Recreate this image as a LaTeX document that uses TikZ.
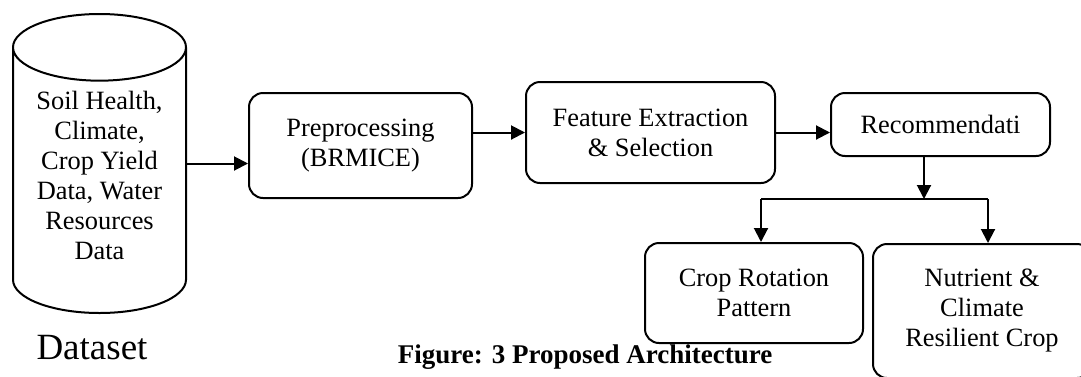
\documentclass[tikz,border=0pt]{standalone}
\usepackage{fontspec}
\setmainfont{Liberation Serif}
\usetikzlibrary{shapes.geometric,arrows.meta}

\begin{document}
\begin{tikzpicture}[x=0.5pt,y=-0.5pt,line width=1pt,
  box/.style={draw,rounded corners=7pt,align=center,font=\fontsize{13.2}{15}\selectfont},
  >={Triangle[length=7pt,width=7pt]}]
\useasboundingbox (0,0) rectangle (1081,376);
\node (DATA) [cylinder, draw, shape border rotate=90, aspect=0.5, text width=60pt, minimum width=86.5pt, minimum height=149.5pt, anchor=shape center] at (99.5,163.5) {};
\node (DATATXT) [align=center, font=\fontsize{13.2}{15}\selectfont] at (99.5,175) {Soil Health,\\Climate,\\Crop Yield\\Data, Water\\Resources\\Data};
\node (DSLBL) at (92,348) {\fontsize{18.5}{22}\selectfont Dataset};
\node (PREP) [box, minimum width=111.5pt, minimum height=52.5pt] at (360.5,145.5) {Preprocessing\\(BRMICE)};
\node (FEAT) [box, minimum width=124.5pt, minimum height=50.5pt] at (650.5,132.5) {Feature Extraction\\\& Selection};
\node (RECO) [box, minimum width=109.5pt, minimum height=31.5pt] at (940.5,124.5) {Recommendati};
\node (CROP) [box, minimum width=109pt, minimum height=50pt] at (754,293) {Crop Rotation\\Pattern};
\node (NUTR) [box, minimum width=109pt, minimum height=67pt] at (982,311) {Nutrient \&\\Climate\\Resilient Crop};
\node (CAPT) at (585,357) {\fontsize{13.5}{16}\selectfont\bfseries Figure: 3 Proposed Architecture};
\coordinate (SPLIT) at (924,199);
\draw [->] (DATA.shape center -| DATA.east) -- (DATA.shape center -| PREP.west);
\draw [->] (PREP.east |- FEAT.west) -- (FEAT.west);
\draw [->] (FEAT.east) -- (FEAT.east -| RECO.west);
\draw [->] (RECO.south -| SPLIT) -- (SPLIT);
\draw ([xshift=3.5pt]CROP.north |- SPLIT) -- ([xshift=3pt]NUTR.north |- SPLIT);
\draw [->] ([xshift=3.5pt]CROP.north |- SPLIT) -- ([xshift=3.5pt]CROP.north);
\draw [->] ([xshift=3pt]NUTR.north |- SPLIT) -- ([xshift=3pt]NUTR.north);
\end{tikzpicture}
\end{document}
